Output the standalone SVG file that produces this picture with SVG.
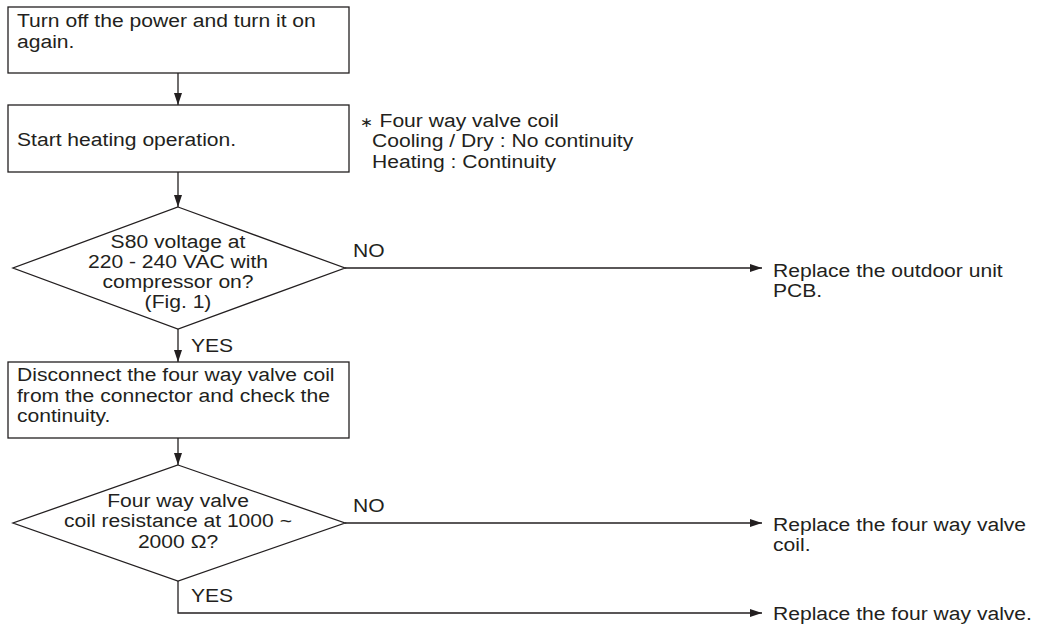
<svg xmlns="http://www.w3.org/2000/svg" width="1046" height="628" viewBox="0 0 1046 628">
<style>
.box{fill:#fff;stroke:#231f20;stroke-width:1.3}
.ln{fill:none;stroke:#231f20;stroke-width:1.3}
text{font-family:"Liberation Sans",Arial,sans-serif;font-size:19px;fill:#231f20}
.c{text-anchor:middle}
</style>
<defs>
<marker id="ah" viewBox="0 0 12 8" refX="12" refY="4" markerWidth="12" markerHeight="8" markerUnits="userSpaceOnUse" orient="auto">
<path d="M0,0 L12,4 L0,8 Z" fill="#231f20"/>
</marker>
</defs>
<rect width="1046" height="628" fill="#fff"/>
<g id="connectors">
<line class="ln" x1="178" y1="73" x2="178" y2="105" marker-end="url(#ah)"/>
<line class="ln" x1="178" y1="172" x2="178" y2="207" marker-end="url(#ah)"/>
<line class="ln" x1="178" y1="329" x2="178" y2="362" marker-end="url(#ah)"/>
<line class="ln" x1="178" y1="438" x2="178" y2="465" marker-end="url(#ah)"/>
<line class="ln" x1="345" y1="268" x2="762" y2="268" marker-end="url(#ah)"/>
<line class="ln" x1="345" y1="523" x2="762" y2="523" marker-end="url(#ah)"/>
<polyline class="ln" points="178,581 178,613 762,613" marker-end="url(#ah)"/>
<text transform="translate(353,257) scale(1.11,1)">NO</text>
<text transform="translate(191,352) scale(1.11,1)">YES</text>
<text transform="translate(353,512) scale(1.11,1)">NO</text>
<text transform="translate(191,602) scale(1.11,1)">YES</text>
</g>
<g id="n1">
<rect class="box" x="8" y="7" width="341" height="66"/>
<text transform="translate(17,27) scale(1.11,1)">Turn off the power and turn it on</text>
<text transform="translate(17,48) scale(1.11,1)">again.</text>
</g>
<g id="n2">
<rect class="box" x="8" y="105" width="341" height="67"/>
<text transform="translate(17,146) scale(1.11,1)">Start heating operation.</text>
</g>
<g id="note">
<text transform="translate(360,127) scale(1.11,1)"><tspan font-size="14">∗</tspan> Four way valve coil</text>
<text transform="translate(372,147) scale(1.11,1)">Cooling / Dry : No continuity</text>
<text transform="translate(372,168) scale(1.11,1)">Heating : Continuity</text>
</g>
<g id="d1">
<polygon class="box" points="178,207 345,268 178,329 13,268"/>
<text class="c" transform="translate(178,248) scale(1.11,1)">S80 voltage at</text>
<text class="c" transform="translate(178,268) scale(1.11,1)">220 - 240 VAC with</text>
<text class="c" transform="translate(178,288) scale(1.11,1)">compressor on?</text>
<text class="c" transform="translate(178,308) scale(1.11,1)">(Fig. 1)</text>
</g>
<g id="n3">
<rect class="box" x="8" y="362" width="341" height="76"/>
<text transform="translate(17,381) scale(1.11,1)">Disconnect the four way valve coil</text>
<text transform="translate(17,402) scale(1.11,1)">from the connector and check the</text>
<text transform="translate(17,422) scale(1.11,1)">continuity.</text>
</g>
<g id="d2">
<polygon class="box" points="178,465 345,523 178,581 13,523"/>
<text class="c" transform="translate(178,507) scale(1.11,1)">Four way valve</text>
<text class="c" transform="translate(178,527) scale(1.11,1)">coil resistance at 1000 ~</text>
<text class="c" transform="translate(178,548) scale(1.11,1)">2000 Ω?</text>
</g>
<g id="r1">
<text transform="translate(773,277) scale(1.11,1)">Replace the outdoor unit</text>
<text transform="translate(773,297) scale(1.11,1)">PCB.</text>
</g>
<g id="r2">
<text transform="translate(773,531) scale(1.11,1)">Replace the four way valve</text>
<text transform="translate(773,551) scale(1.11,1)">coil.</text>
</g>
<g id="r3">
<text transform="translate(773,620) scale(1.11,1)">Replace the four way valve.</text>
</g>
</svg>
